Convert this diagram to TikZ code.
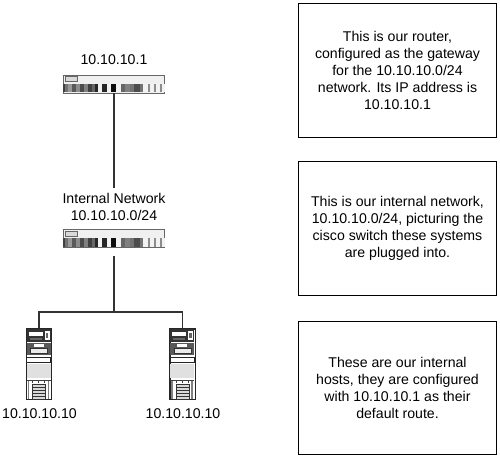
\documentclass[tikz,border=0pt]{standalone}
\usepackage{fontspec}
\setmainfont{Liberation Sans}
\usepackage{tikz}
\usetikzlibrary{positioning}
\tikzset{
  notebox/.style={draw,line width=0.9pt,align=center,minimum width=149pt,minimum height=100pt,inner sep=0pt,font=\fontsize{10.6}{12.9}\selectfont},
  iplabel/.style={align=center,inner sep=0pt,font=\fontsize{10.6}{12.9}\selectfont},
  rackbox/.style={draw=black!60,line width=0.5pt,fill=black!6,minimum width=76pt,minimum height=13.5pt,inner sep=0pt},
  hostbox/.style={draw=black!85,line width=1pt,fill=white,minimum width=19pt,minimum height=53pt,inner sep=0pt},
  wire/.style={line width=0.85pt,black!80}
}
% one row of drive bays along the lower half of the chassis
\newcommand{\rackdetail}[1]{%
\begin{scope}[shift={(#1.north west)}]
\draw[draw=black!60,fill=black!15,line width=0.3pt] (2,2) rectangle (14,7);
\foreach \xa/\xb/\shade in {0/2/75,2/5/55,5/9/40,9/13/65,13/17/45,17/21/70,21/25/50,25/29/75,29/32/60,32/35/85,35/39/5,39/44/85,44/48/5,48/53/95,53/58/5,58/62/60,62/67/50,67/71/55,71/77/70,77/80/55,80/85/5,85/87/45,87/91/5,91/93/45,93/97/5,97/99/45,99/102/5}
  \fill[black!\shade] (\xa,9) rectangle (\xb,17.8);
\end{scope}}
% front of a tower host: slots, blank panel, fan grille
\newcommand{\hostdetail}[1]{%
\begin{scope}[shift={(#1.north west)}]
\fill[black!80] (1,1) rectangle (25,14);
\fill[white] (3,4) rectangle (17,8);
\fill[white] (19,3) rectangle (24,12);
\fill[black!60] (20,5) rectangle (22.5,10);
\fill[black!60] (4,10) rectangle (16,12);
\fill[black!65] (1,15) rectangle (25,27);
\fill[white] (8,16) rectangle (18,18.5);
\draw[black!80,fill=black!8,line width=0.4pt] (5,20) rectangle (22,25);
\draw[black!85,fill=white,line width=0.6pt] (1,29) rectangle (25,34);
\fill[black!12] (1,36) rectangle (25,50);
\draw[black!75,line width=0.6pt] (1,52) -- (25,52);
\foreach \xg in {7,13,19}
  \draw[black!75,line width=0.5pt] (\xg,52) -- (\xg,55);
\foreach \xg in {3,23}
  \draw[black!50,line width=1.2pt] (\xg,53) -- (\xg,71);
\draw[black!80,fill=black!15,line width=0.6pt] (7,56) rectangle (20,71);
\foreach \yg in {59,62,65,68}
  \draw[black!80,line width=0.45pt] (7,\yg) -- (20,\yg);
\end{scope}}
\begin{document}
\begin{tikzpicture}[x=0.75pt,y=-0.75pt]
\useasboundingbox (0,0) rectangle (500,459);
% ---- devices ----
\node[iplabel] (routerip) at (114,60) {10.10.10.1};
\node[rackbox] (router) at (114,84) {};
\rackdetail{router}
\node[iplabel,outer sep=4pt] (netlabel) at (114,207) {Internal Network\\10.10.10.0/24};
\node[rackbox] (switch) at (114,238.5) {};
\rackdetail{switch}
\node[hostbox] (hostleft) at (39,364.5) {};
\hostdetail{hostleft}
\node[hostbox] (hostright) at (182.5,364.5) {};
\hostdetail{hostright}
\node[iplabel] (hostleftip) at (39.5,414) {10.10.10.10};
\node[iplabel] (hostrightip) at (183,414) {10.10.10.10};
\coordinate (busjoin) at (114,312);
% ---- wires ----
\draw[wire] (router.south) -- (netlabel.north);
\draw[wire,shorten <=6pt] (switch.south) -- (busjoin);
\draw[wire] (hostleft.north) |- (busjoin);
\draw[wire] (hostright.north) |- (busjoin);
% ---- notes ----
\node[notebox] (routernote) at (397.5,70.5) {This is our router,\\configured as the gateway\\for the 10.10.10.0/24\\network. Its IP address is\\10.10.10.1};
\node[notebox] (switchnote) at (397.5,228.5) {This is our internal network,\\10.10.10.0/24, picturing the\\cisco switch these systems\\are plugged into.};
\node[notebox] (hostnote) at (397.5,388) {These are our internal\\hosts, they are configured\\with 10.10.10.1 as their\\default route.};
\end{tikzpicture}
\end{document}
